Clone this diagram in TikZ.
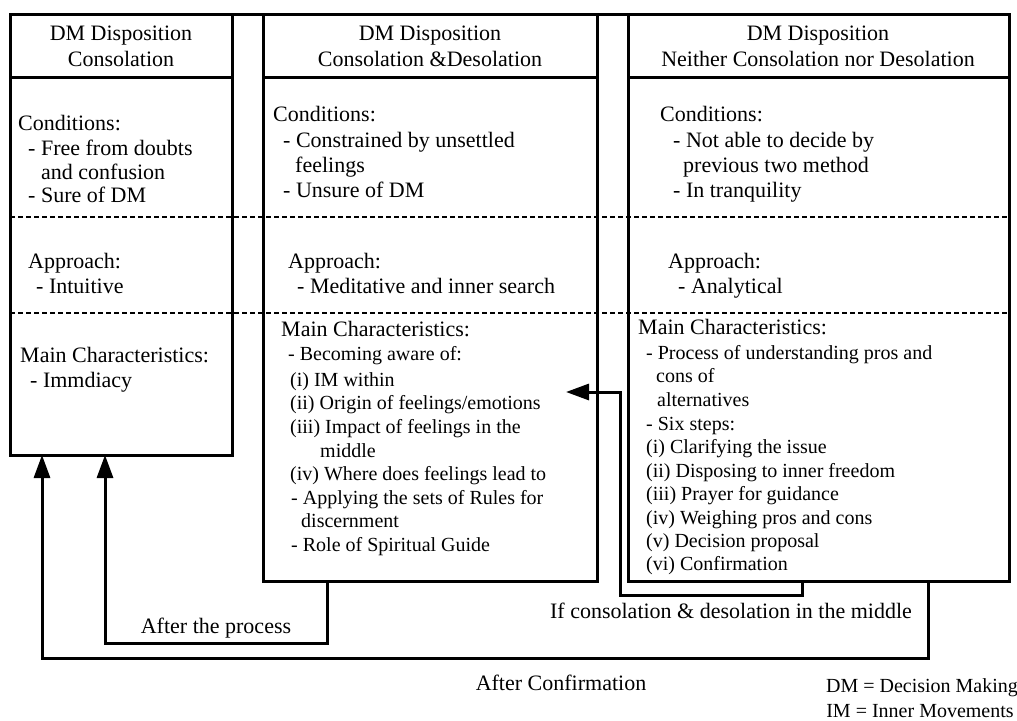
\documentclass[tikz,border=0pt]{standalone}
\usepackage{fontspec}
\setmainfont{Liberation Serif}
\usetikzlibrary{arrows.meta}
\begin{document}
\begin{tikzpicture}[x=1pt,y=-1pt,
  box/.style={draw,line width=3pt,inner sep=0,outer sep=0},
  big/.style={font=\fontsize{22}{26}\selectfont,inner sep=0,anchor=base west},
  sm/.style={font=\fontsize{20}{24}\selectfont,inner sep=0,anchor=base west},
  head/.style={font=\fontsize{22}{26}\selectfont,inner sep=0,anchor=base},
  lbl/.style={font=\fontsize{22}{26}\selectfont,inner sep=0,anchor=base},
  leg/.style={font=\fontsize{20}{24}\selectfont,inner sep=0,anchor=base},
  sep/.style={line width=2.2pt,dash pattern=on 5pt off 3pt},
  rule/.style={line width=3pt},
  arr/.style={line width=3pt,-{Triangle[length=23pt,width=16pt]}}]
\useasboundingbox (0,0) rectangle (1017,720);

% boxes
\node[box,minimum width=222pt,minimum height=441pt] (b1) at (121,234.5) {};
\node[box,minimum width=334pt,minimum height=567pt] (b2) at (430,297.5) {};
\node[box,minimum width=381pt,minimum height=567pt] (b3) at (818.5,297.5) {};
\draw[rule] (b1.north west) -- (b3.north east);
\draw[rule] (10,77) -- (232,77);
\draw[rule] (263,77) -- (597,77);
\draw[rule] (628,77) -- (1009,77);
\draw[sep] (10,217) -- (1009,217);
\draw[sep] (10,313) -- (1009,313);

% column 1
\node[head] (h1a) at (121,40) {DM Disposition};
\node[head] (h1b) at (121,66) {Consolation};
\node[big] (c1a) at (18,130) {Conditions:};
\node[big] (c1b) at (28,155) {- Free from doubts};
\node[big] (c1c) at (41,179) {and confusion};
\node[big] (c1d) at (28,202) {- Sure of DM};
\node[big] (a1a) at (28,268) {Approach:};
\node[big] (a1b) at (36,293) {- Intuitive};
\node[big] (m1a) at (20,362) {Main Characteristics:};
\node[big] (m1b) at (30,387) {- Immdiacy};

% column 2
\node[head] (h2a) at (430,40) {DM Disposition};
\node[head] (h2b) at (430,66) {Consolation \&Desolation};
\node[big] (c2a) at (273,121) {Conditions:};
\node[big] (c2b) at (283,147) {- Constrained by unsettled};
\node[big] (c2c) at (295,172) {feelings};
\node[big] (c2d) at (283,197) {- Unsure of DM};
\node[big] (a2a) at (288,268) {Approach:};
\node[big] (a2b) at (297,293) {- Meditative and inner search};
\node[big] (m2a) at (281,336) {Main Characteristics:};
\node[sm] (m2b) at (288,360) {- Becoming aware of:};
\node[sm] (m2c) at (290,386) {(i) IM within};
\node[sm] (m2d) at (290,409) {(ii) Origin of feelings/emotions};
\node[sm] (m2e) at (290,433) {(iii) Impact of feelings in the};
\node[sm] (m2f) at (320,457) {middle};
\node[sm] (m2g) at (290,480) {(iv) Where does feelings lead to};
\node[sm] (m2h) at (291,504) {- Applying the sets of Rules for};
\node[sm] (m2i) at (301,527) {discernment};
\node[sm] (m2j) at (291,551) {- Role of Spiritual Guide};

% column 3
\node[head] (h3a) at (818,40) {DM Disposition};
\node[head] (h3b) at (818,66) {Neither Consolation nor Desolation};
\node[big] (c3a) at (660,121) {Conditions:};
\node[big] (c3b) at (673,147) {- Not able to decide by};
\node[big] (c3c) at (683,172) {previous two method};
\node[big] (c3d) at (673,197) {- In tranquility};
\node[big] (a3a) at (668,268) {Approach:};
\node[big] (a3b) at (678,293) {- Analytical};
\node[big] (m3a) at (638,334) {Main Characteristics:};
\node[sm] (m3b) at (646,359) {- Process of understanding pros and};
\node[sm] (m3c) at (656,382) {cons of};
\node[sm] (m3d) at (657,406) {alternatives};
\node[sm] (m3e) at (646,430) {- Six steps:};
\node[sm] (m3f) at (646,453) {(i) Clarifying the issue};
\node[sm] (m3g) at (646,477) {(ii) Disposing to inner freedom};
\node[sm] (m3h) at (646,500) {(iii) Prayer for guidance};
\node[sm] (m3i) at (646,524) {(iv) Weighing pros and cons};
\node[sm] (m3j) at (646,547) {(v) Decision proposal};
\node[sm] (m3k) at (646,570) {(vi) Confirmation};

% connectors
\coordinate (tipA) at (566,392);
\draw[arr] ([xshift=64pt]b2.south west) -- ++(0,62) -| ([xshift=95pt]b1.south west);
\draw[arr] ([xshift=300pt]b3.south west) -- ++(0,77) -| ([xshift=32pt]b1.south west);
\draw[arr] ([xshift=174pt]b3.south west) -- ++(0,14) -| ([xshift=54pt]tipA) -- (tipA);

% labels
\node[lbl] (l1) at (216,633) {After the process};
\node[lbl] (l2) at (731,618) {If consolation \& desolation in the middle};
\node[lbl] (l3) at (561,690) {After Confirmation};
\node[leg] (g1) at (922,692) {DM = Decision Making};
\node[leg] (g2) at (920,717) {IM = Inner Movements};
\end{tikzpicture}
\end{document}
